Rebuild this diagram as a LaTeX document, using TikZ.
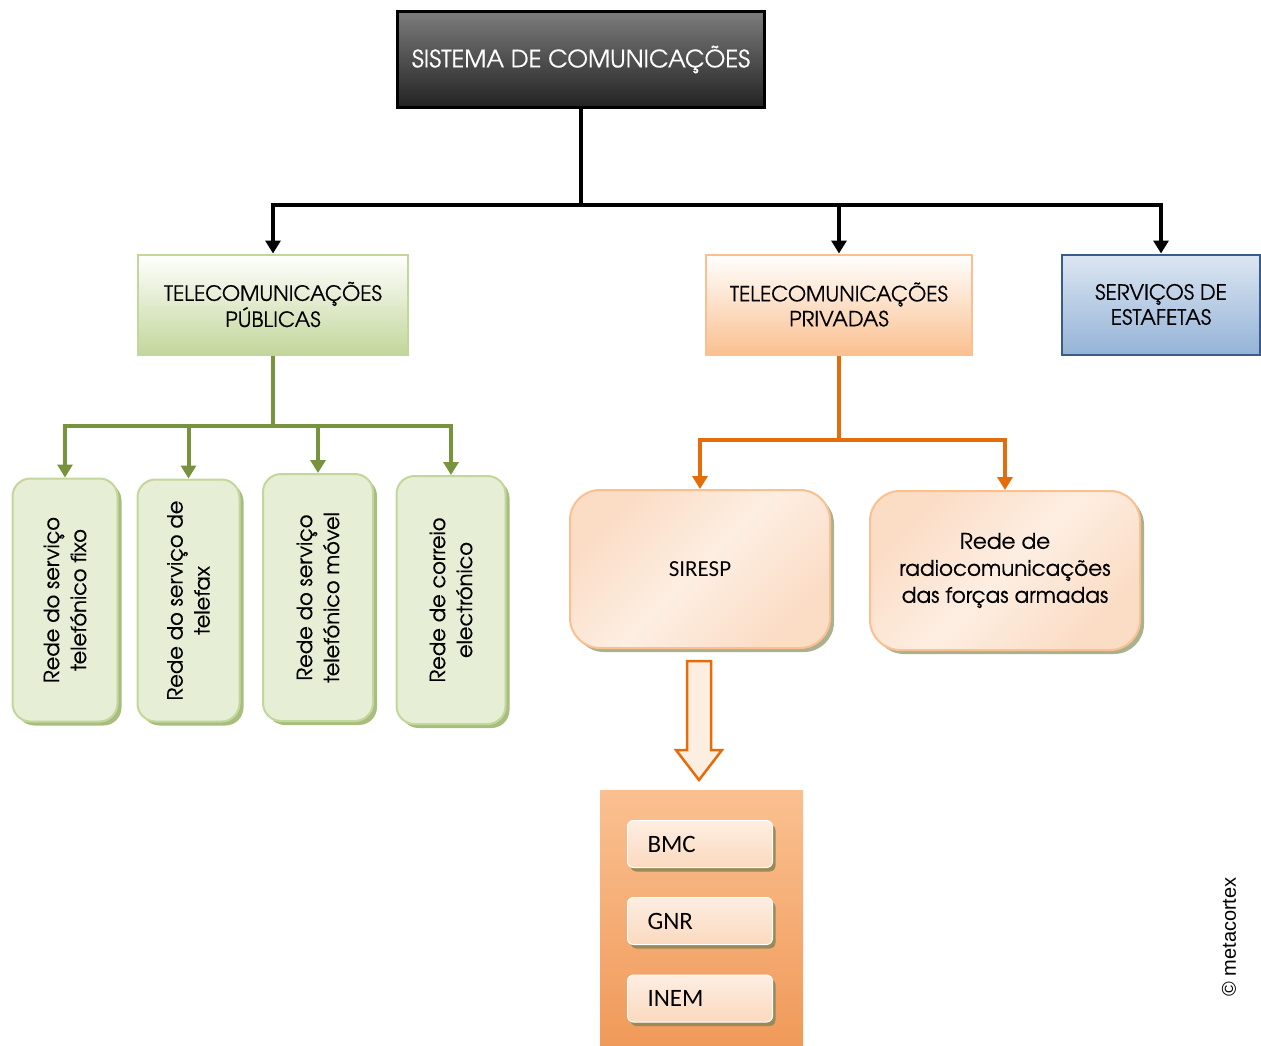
\documentclass[tikz,border=0pt]{standalone}
\usepackage{fontspec}
\setmainfont{texgyreadventor}[Extension=.otf,UprightFont=*-regular,BoldFont=*-bold,ItalicFont=*-italic,BoldItalicFont=*-bolditalic,FakeBold=0.35]
\newfontfamily\calib{Carlito}
\newfontfamily\arialf{Liberation Sans}
\usetikzlibrary{arrows.meta,shadows,calc}
\definecolor{dtop}{HTML}{7C7C7C}
\definecolor{dbot}{HTML}{222222}
\definecolor{gline}{HTML}{77933C}
\definecolor{gedge}{HTML}{C3D69B}
\definecolor{gfill}{HTML}{E6EED6}
\definecolor{gshad}{HTML}{A8BE7E}
\definecolor{oline}{HTML}{E46C0A}
\definecolor{oedge}{HTML}{FAC090}
\definecolor{ofill}{HTML}{FBDCC4}
\definecolor{olight}{HTML}{FDEEE2}
\definecolor{oshad}{HTML}{A9B18E}
\definecolor{btop}{HTML}{DCE6F2}
\definecolor{bbot}{HTML}{95B3D7}
\definecolor{bedge}{HTML}{385D8A}
\definecolor{ptop}{HTML}{FAC090}
\definecolor{pbot}{HTML}{F09A5A}
\definecolor{sshad}{HTML}{9A8A58}
\begin{document}
\begin{tikzpicture}[x=1pt,y=-1pt,
  tip/.style={-{Triangle[width=15pt,length=13pt]}},
  blk/.style={line width=4pt,black,tip},
  grn/.style={line width=4pt,gline,tip},
  org/.style={line width=4pt,oline,tip},
  topbox/.style={draw=black,line width=3pt,top color=dtop,bottom color=dbot,text=white,
    minimum width=367pt,minimum height=96pt,inner sep=0pt,font=\fontsize{24}{28}\selectfont},
  headbox/.style={line width=2pt,minimum height=100pt,inner sep=0pt,align=center,
    font=\fontsize{21}{25}\selectfont},
  vbox/.style={draw=gedge,line width=2pt,fill=gfill,rounded corners=18pt,inner sep=0pt,
    drop shadow={shadow xshift=4pt,shadow yshift=-4pt,fill=gshad,opacity=1},
    font=\fontsize{21}{27}\selectfont},
  rbox/.style={draw=oedge,line width=2pt,left color=ofill,right color=ofill,middle color=olight,
    shading angle=45,rounded corners=30pt,inner sep=0pt,
    drop shadow={shadow xshift=4pt,shadow yshift=-4pt,fill=oshad,opacity=1}},
  sbox/.style={draw=white,line width=1pt,top color=olight,bottom color=ofill!90!oedge,
    rounded corners=6pt,minimum width=145pt,minimum height=47pt,text width=105pt,
    inner xsep=20pt,align=left,font=\calib\fontsize{25}{28}\selectfont,
    drop shadow={shadow xshift=3pt,shadow yshift=-4pt,fill=sshad,opacity=1}}
]
\useasboundingbox (0,0) rectangle (1261,1046);

% top
\node[topbox] (sys) at (581,59.5) {SISTEMA DE COMUNICAÇÕES};
\coordinate (j1) at (581,205);

\node[headbox,draw=gedge,top color=white,bottom color=gedge,minimum width=270pt] (pub) at (273,304.5)
  {TELECOMUNICAÇÕES\\PÚBLICAS};
\node[headbox,draw=oedge,top color=white,bottom color=oedge,minimum width=266pt] (priv) at (839,304.5)
  {TELECOMUNICAÇÕES\\PRIVADAS};
\node[headbox,draw=bedge,top color=btop,bottom color=bbot,minimum width=198pt] (est) at (1161,304.5)
  {SERVIÇOS DE\\ESTAFETAS};

\draw[line width=4pt,black] (sys.south) -- (j1);
\draw[blk] (j1) -| (pub.north);
\draw[blk] (j1) -| (priv.north);
\draw[blk] (j1) -| (est.north);

% green branch
\node[vbox,minimum width=105pt,minimum height=243pt] (v1) at (65,600)
  {\rotatebox{90}{\parbox{235pt}{\centering Rede do serviço\\telefónico fixo}}};
\node[vbox,minimum width=102pt,minimum height=242pt] (v2) at (188.5,600.5)
  {\rotatebox{90}{\parbox{235pt}{\centering Rede do serviço de\\telefax}}};
\node[vbox,minimum width=110pt,minimum height=247pt] (v3) at (318,597.5)
  {\rotatebox{90}{\parbox{235pt}{\centering Rede do serviço\\telefónico móvel}}};
\node[vbox,minimum width=109pt,minimum height=248pt] (v4) at (451,600)
  {\rotatebox{90}{\parbox{235pt}{\centering Rede de correio\\electrónico}}};
\coordinate (j2) at (273,426);
\draw[line width=4pt,gline] (pub.south) -- (j2);
\draw[grn] (j2) -| (v1.north);
\draw[grn] (j2) -| (v2.north);
\draw[grn] (j2) -| (v3.north);
\draw[grn] (j2) -| (v4.north);

% orange branch
\node[rbox,minimum width=260pt,minimum height=158pt,font=\calib\fontsize{23}{27}\selectfont] (sir) at (700,569) {SIRESP};
\node[rbox,minimum width=270pt,minimum height=159pt,align=center,font=\fontsize{21.5}{27}\selectfont] (forc) at (1005,570.5)
  {Rede de\\radiocomunicações\\das forças armadas};
\coordinate (j3) at (839,440);
\draw[line width=4pt,oline] (priv.south) -- (j3);
\draw[org] (j3) -| (sir.north);
\draw[org] (j3) -| (forc.north);

% block arrow
\draw[line width=2.5pt,oline,fill=olight,line join=miter]
  (687,661) -- (711,661) -- (711,750) -- (722,750) -- (699,780) -- (676,750) -- (687,750) -- cycle;

% panel
\node[top color=ptop,bottom color=pbot,minimum width=203pt,minimum height=256pt,inner sep=0pt] (pan) at (701.5,918) {};
\node[sbox] (bmc) at (700,844) {BMC};
\node[sbox] (gnr) at (700,921) {GNR};
\node[sbox] (inem) at (700,998.5) {INEM};

% copyright
\node[rotate=90,font=\arialf\fontsize{20}{24}\selectfont,inner sep=0pt] (cp) at (1229,937) {© metacortex};
\end{tikzpicture}
\end{document}
